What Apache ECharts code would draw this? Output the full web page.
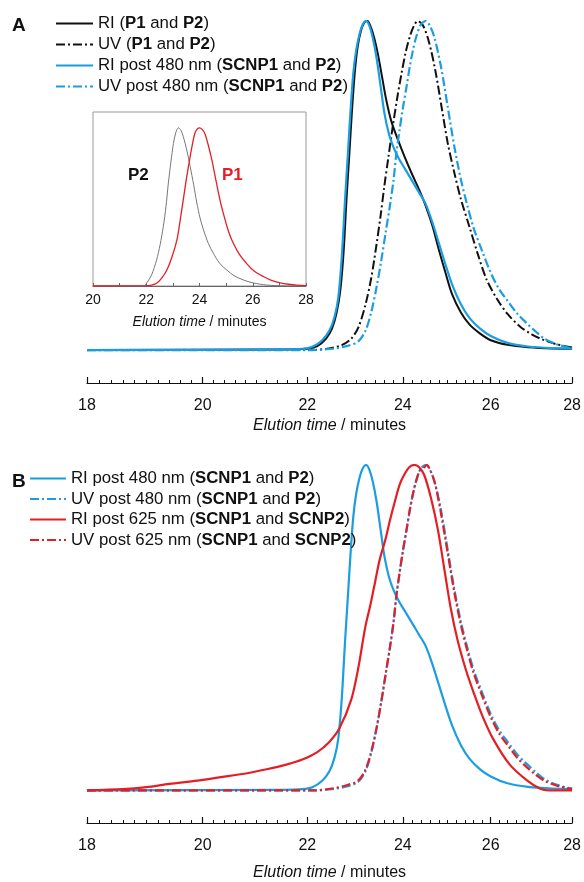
<!DOCTYPE html>
<html>
<head>
<meta charset="utf-8">
<script src="https://cdn.jsdelivr.net/npm/echarts@6/dist/echarts.min.js"></script>
<style>
  html, body { margin: 0; padding: 0; background: #fff; }
  #chart { width: 584px; height: 882px; }
</style>
</head>
<body>
<div id="chart"></div>
<script>
// elution time (min) / normalised detector response
const riP1P2 = [[18,0],[21.5,0.002],[22.0,0.004],[22.2,0.012],[22.38,0.035],[22.5,0.065],[22.59,0.11],[22.67,0.18],[22.74,0.3],[22.8,0.46],[22.86,0.6],[22.91,0.72],[22.97,0.84],[23.03,0.92],[23.1,0.97],[23.17,0.995],[23.24,1.0],[23.3,0.985],[23.38,0.95],[23.46,0.9],[23.55,0.83],[23.64,0.76],[23.75,0.695],[23.89,0.64],[24.03,0.59],[24.2,0.535],[24.35,0.49],[24.5,0.44],[24.65,0.38],[24.8,0.305],[24.95,0.235],[25.1,0.17],[25.3,0.115],[25.5,0.078],[25.75,0.05],[26.0,0.03],[26.4,0.016],[26.9,0.009],[27.5,0.005],[28,0.004]];
const uvP1P2 = [[18,0],[22.0,0],[22.4,0.004],[22.7,0.015],[22.9,0.035],[23.05,0.07],[23.2,0.14],[23.32,0.22],[23.43,0.32],[23.52,0.41],[23.6,0.5],[23.68,0.58],[23.77,0.67],[23.87,0.76],[23.97,0.84],[24.07,0.91],[24.17,0.96],[24.26,0.99],[24.33,1.0],[24.45,0.985],[24.58,0.935],[24.72,0.85],[24.86,0.74],[25.0,0.63],[25.15,0.54],[25.3,0.46],[25.5,0.375],[25.7,0.29],[25.9,0.215],[26.15,0.155],[26.4,0.11],[26.7,0.072],[27.0,0.047],[27.3,0.03],[27.6,0.018],[28,0.008]];
const riPost480 = [[18,0],[21.5,0.002],[21.9,0.004],[22.1,0.01],[22.3,0.03],[22.45,0.06],[22.55,0.1],[22.63,0.16],[22.7,0.28],[22.77,0.46],[22.83,0.6],[22.88,0.72],[22.94,0.84],[23.0,0.91],[23.07,0.96],[23.14,0.99],[23.21,1.0],[23.28,0.985],[23.35,0.95],[23.43,0.89],[23.52,0.8],[23.6,0.72],[23.7,0.655],[23.8,0.615],[23.92,0.58],[24.05,0.55],[24.2,0.515],[24.35,0.48],[24.5,0.445],[24.65,0.39],[24.8,0.325],[24.95,0.26],[25.1,0.2],[25.3,0.14],[25.5,0.098],[25.75,0.065],[26.0,0.043],[26.4,0.022],[26.9,0.011],[27.5,0.006],[28,0.005]];
const uvPost480 = [[18,0],[22.1,0],[22.5,0.004],[22.8,0.012],[23.04,0.026],[23.2,0.06],[23.32,0.116],[23.43,0.19],[23.53,0.27],[23.63,0.36],[23.72,0.44],[23.8,0.52],[23.86,0.6],[23.93,0.67],[24.0,0.735],[24.08,0.8],[24.15,0.86],[24.22,0.91],[24.29,0.95],[24.4,0.99],[24.51,1.0],[24.6,0.985],[24.7,0.95],[24.85,0.86],[25.0,0.74],[25.15,0.62],[25.3,0.52],[25.45,0.44],[25.6,0.37],[25.8,0.3],[26.0,0.235],[26.2,0.185],[26.4,0.15],[26.64,0.11],[26.88,0.08],[27.1,0.055],[27.3,0.035],[27.6,0.018],[27.9,0.008],[28,0.006]];
const riPost625 = [[18,0],[18.6,0.004],[19.0,0.01],[19.4,0.02],[19.9,0.03],[20.3,0.04],[20.8,0.052],[21.2,0.065],[21.6,0.08],[21.9,0.095],[22.2,0.118],[22.45,0.15],[22.65,0.19],[22.9,0.28],[23.05,0.38],[23.19,0.5],[23.3,0.57],[23.4,0.64],[23.5,0.71],[23.62,0.77],[23.72,0.83],[23.83,0.89],[23.93,0.94],[24.03,0.97],[24.14,0.993],[24.25,1.0],[24.36,0.993],[24.47,0.97],[24.62,0.9],[24.78,0.8],[24.93,0.675],[25.07,0.56],[25.23,0.46],[25.42,0.37],[25.6,0.3],[25.8,0.23],[26.05,0.16],[26.45,0.08],[26.88,0.03],[27.2,0.005],[27.4,0],[28,0]];
const uvPost625 = [[18,0],[22.1,0],[22.5,0.006],[22.8,0.016],[23.04,0.03],[23.2,0.065],[23.32,0.12],[23.43,0.19],[23.53,0.27],[23.63,0.36],[23.72,0.44],[23.8,0.52],[23.86,0.6],[23.93,0.67],[24.0,0.735],[24.08,0.8],[24.15,0.86],[24.22,0.91],[24.29,0.95],[24.38,0.985],[24.45,0.99],[24.53,1.0],[24.62,0.98],[24.72,0.94],[24.85,0.85],[25.0,0.73],[25.15,0.61],[25.3,0.51],[25.45,0.43],[25.6,0.36],[25.8,0.29],[26.0,0.225],[26.2,0.175],[26.4,0.14],[26.64,0.1],[26.88,0.07],[27.1,0.047],[27.3,0.03],[27.6,0.015],[27.9,0.006],[28,0.005]];
// inset: the two precursors
const insetP2 = [[20,0],[21.9,0],[22.02,0.02],[22.2,0.07],[22.39,0.165],[22.52,0.26],[22.64,0.375],[22.74,0.5],[22.83,0.65],[22.93,0.79],[23.02,0.9],[23.11,0.97],[23.21,1.0],[23.3,0.985],[23.39,0.945],[23.52,0.86],[23.65,0.755],[23.78,0.64],[23.9,0.525],[24.02,0.43],[24.15,0.355],[24.33,0.27],[24.52,0.207],[24.75,0.145],[25.03,0.1],[25.3,0.065],[25.65,0.038],[26.0,0.02],[26.53,0.006],[27.2,0.001],[28,0]];
const insetP1 = [[20,0],[22.0,0.002],[22.2,0.006],[22.39,0.017],[22.58,0.05],[22.77,0.1],[22.96,0.18],[23.15,0.29],[23.27,0.41],[23.39,0.545],[23.52,0.69],[23.65,0.82],[23.75,0.91],[23.83,0.967],[23.92,0.993],[24.0,1.0],[24.1,0.99],[24.21,0.96],[24.33,0.89],[24.46,0.8],[24.58,0.7],[24.71,0.59],[24.83,0.5],[24.96,0.42],[25.1,0.34],[25.27,0.27],[25.5,0.2],[25.78,0.14],[26.05,0.095],[26.4,0.06],[26.7,0.036],[27.03,0.02],[27.35,0.011],[27.66,0.006],[28,0.003]];

const majorTicks = [18, 20, 22, 24, 26, 28];
const insetTicks = [20, 22, 24, 26, 28];
const minorTicks = [];
for (let k = 0; k <= 50; k++) minorTicks.push(+(18 + k * 0.2).toFixed(1));

const legendA = ['RI (P1 and P2)', 'UV (P1 and P2)', 'RI post 480 nm (SCNP1 and P2)', 'UV post 480 nm (SCNP1 and P2)'];
const legendB = ['RI post 480 nm (SCNP1 and P2)', 'UV post 480 nm (SCNP1 and P2)', 'RI post 625 nm (SCNP1 and SCNP2)', 'UV post 625 nm (SCNP1 and SCNP2)'];

const FONT = 'Liberation Sans, Arial, sans-serif';
const BLACK = '#111';
const BLUE = '#1b9de2';
const RED = '#e41e25';
const DASHDOT = [9, 3, 2, 3];
const LEGEND_FS = 16.8;

const chart = echarts.init(document.getElementById('chart'));

function trace (name, data, color, dashed, axis, width) {
  return {
    type: 'line',
    name: name,
    data: data,
    xAxisIndex: axis,
    yAxisIndex: axis === 0 ? 0 : (axis === 2 ? 1 : 2),
    showSymbol: false,
    symbol: 'none',
    smooth: 0.3,
    silent: true,
    lineStyle: { color: color, width: width || 2, type: dashed ? DASHDOT : 'solid' },
    itemStyle: { color: color }
  };
}

function mainX (grid, nameGap) {
  return [{
    type: 'log', gridIndex: grid, min: 18, max: 28, logBase: 10, position: 'bottom',
    name: '{i|Elution time} / minutes', nameLocation: 'middle', nameGap: nameGap,
    nameTextStyle: { fontSize: 16, color: BLACK, fontFamily: FONT, rich: { i: { fontStyle: 'italic', fontSize: 16, fontFamily: FONT, color: BLACK } } },
    axisLine: { onZero: false, lineStyle: { color: BLACK, width: 1.2 } },
    axisTick: { inside: true, length: 6, customValues: majorTicks, lineStyle: { color: BLACK, width: 1.2 } },
    axisLabel: { customValues: majorTicks, fontSize: 16, color: BLACK, fontFamily: FONT, margin: 15, formatter: v => String(Math.round(v)) },
    splitLine: { show: false }, minorTick: { show: false }
  }, {
    type: 'log', gridIndex: grid, min: 18, max: 28, logBase: 10, position: 'bottom', offset: 0,
    axisLine: { show: false, onZero: false },
    axisTick: { inside: true, length: 3, customValues: minorTicks, lineStyle: { color: BLACK, width: 1 } },
    axisLabel: { show: false },
    splitLine: { show: false }
  }];
}

const legendRich = {
  b: { fontWeight: 'bold', fontSize: LEGEND_FS, fontFamily: FONT, color: BLACK }
};
const boldify = name => name.replace(/(SCNP\d|P\d)/g, '{b|$1}');

chart.setOption({
  animation: false,
  backgroundColor: '#fff',
  grid: [
    { left: 87, top: 21, width: 488, height: 362 },
    { left: 93, top: 112, width: 213, height: 174, show: true, borderColor: '#999', borderWidth: 1, backgroundColor: 'transparent' },
    { left: 87, top: 465, width: 488, height: 361 }
  ],
  xAxis: [
    ...mainX(0, 35),
    {
      type: 'value', gridIndex: 1, min: 20, max: 28, interval: 2,
      name: '{i|Elution time} / minutes', nameLocation: 'middle', nameGap: 29,
      nameTextStyle: { fontSize: 14, color: BLACK, fontFamily: FONT, rich: { i: { fontStyle: 'italic', fontSize: 14, fontFamily: FONT, color: BLACK } } },
      axisLine: { onZero: false, lineStyle: { color: '#666', width: 1 } },
      axisTick: { inside: true, length: 3, lineStyle: { color: '#666' } },
      minorTick: { show: true, splitNumber: 2, length: 3, lineStyle: { color: '#666' } },
      axisLabel: { fontSize: 14, color: BLACK, fontFamily: FONT, margin: 7, customValues: insetTicks },
      splitLine: { show: false }
    },
    ...mainX(2, 42)
  ],
  yAxis: [
    { gridIndex: 0, min: -0.1, max: 1, show: false },
    { gridIndex: 1, min: 0, max: 1.1, show: false },
    { gridIndex: 2, min: -0.1, max: 1, show: false }
  ],
  legend: [{
    data: legendA, left: 55, top: 15, orient: 'vertical', padding: 0,
    itemWidth: 37, itemHeight: 14, itemGap: 4, selectedMode: false,
    itemStyle: { opacity: 0 },
    formatter: boldify,
    textStyle: { fontSize: LEGEND_FS, color: BLACK, fontFamily: FONT, rich: legendRich }
  }, {
    data: legendB, left: 29, top: 470, orient: 'vertical', padding: 0,
    itemWidth: 36, itemHeight: 14, itemGap: 3.5, selectedMode: false,
    itemStyle: { opacity: 0 },
    formatter: boldify,
    textStyle: { fontSize: LEGEND_FS, color: BLACK, fontFamily: FONT, rich: legendRich }
  }],
  graphic: [
    { type: 'text', left: 12, top: 16, style: { text: 'A', font: 'bold 19px ' + FONT, fill: BLACK } },
    { type: 'text', left: 12, top: 472, style: { text: 'B', font: 'bold 19px ' + FONT, fill: BLACK } },
    { type: 'text', left: 128, top: 167, style: { text: 'P2', font: 'bold 17px ' + FONT, fill: BLACK } },
    { type: 'text', left: 222, top: 167, style: { text: 'P1', font: 'bold 17px ' + FONT, fill: RED } }
  ],
  series: [
    trace('RI (P1 and P2)', riP1P2, BLACK, false, 0, 2),
    trace('UV (P1 and P2)', uvP1P2, BLACK, true, 0, 2),
    trace('RI post 480 nm (SCNP1 and P2)', riPost480, BLUE, false, 0, 2.2),
    trace('UV post 480 nm (SCNP1 and P2)', uvPost480, BLUE, true, 0, 2.2),
    trace('P2', insetP2, '#777', false, 2, 1),
    trace('P1', insetP1, RED, false, 2, 1.3),
    trace('RI post 480 nm (SCNP1 and P2)', riPost480, BLUE, false, 3, 2.2),
    trace('UV post 480 nm (SCNP1 and P2)', uvPost480, BLUE, true, 3, 2.2),
    trace('RI post 625 nm (SCNP1 and SCNP2)', riPost625, RED, false, 3, 2.2),
    trace('UV post 625 nm (SCNP1 and SCNP2)', uvPost625, RED, true, 3, 2.2)
  ]
});
</script>
</body>
</html>
